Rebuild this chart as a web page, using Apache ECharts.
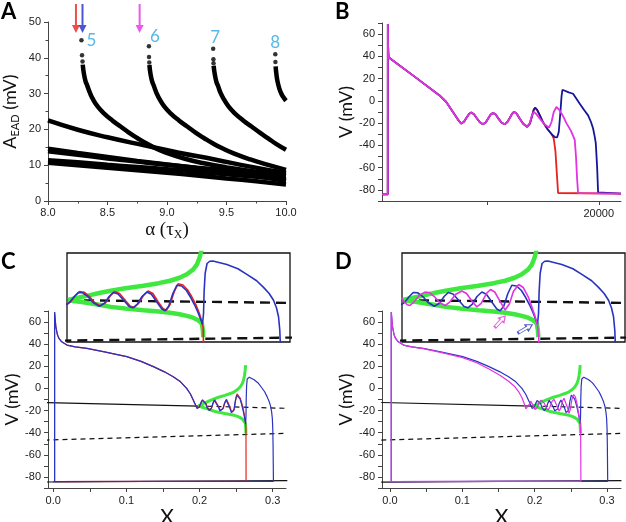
<!DOCTYPE html>
<html><head><meta charset="utf-8">
<script src="https://cdn.jsdelivr.net/npm/echarts@6/dist/echarts.min.js"></script>
<style>html,body{margin:0;padding:0;background:#fff}#c{width:626px;height:522px}</style>
</head><body><div id="c"></div>
<script>
// ---------- Panel A data: EAD amplitude vs alpha ----------
const aTicksX = [8.0, 8.5, 9.0, 9.5, 10.0];
const aBranch5 = [[8.292,38.1],[8.301,35.7],[8.315,33.5],[8.329,32.3],[8.35,30.4],[8.38,28.3],[8.42,26.3],[8.47,24.5],[8.54,22.5],[8.61,20.8],[8.68,19.1],[8.75,17.6],[8.82,16.2],[8.9,14.8],[9.0,13.4],[9.15,11.8],[9.3,10.6],[9.5,9.4],[9.75,8.2],[10.0,7.3]];
const aBranch6 = [[8.852,38.0],[8.861,35.6],[8.875,33.4],[8.889,32.2],[8.91,30.3],[8.94,28.3],[8.98,26.3],[9.03,24.5],[9.1,22.5],[9.17,20.8],[9.24,19.1],[9.31,17.6],[9.38,16.2],[9.46,14.8],[9.56,13.3],[9.7,11.6],[9.85,10.1],[10.0,8.7]];
const aBranch7 = [[9.392,37.8],[9.401,35.5],[9.415,33.3],[9.429,32.1],[9.45,30.2],[9.48,28.3],[9.52,26.3],[9.57,24.5],[9.64,22.5],[9.71,20.8],[9.78,19.1],[9.85,17.5],[9.92,15.9],[10.0,14.3]];
const aBranch8 = [[9.913,37.6],[9.92,35.2],[9.93,33.2],[9.945,31.3],[9.96,30.0],[9.98,28.9],[10.0,28.0]];
const aDots = [[8.281,44.9],[8.286,40.7],[8.29,39.0],[8.848,43.2],[8.849,40.2],[8.851,38.7],[9.388,42.5],[9.39,39.6],[9.391,38.5],[9.91,41.0],[9.911,38.8]];
const aLine1 = [[8.0,22.5],[8.25,19.9],[8.5,17.8],[8.8,15.6],[9.1,13.5],[9.4,11.6],[9.7,9.6],[10.0,7.8]];
const aLine2 = [[8.0,14.6],[8.25,13.4],[8.5,12.3],[8.75,11.2],[9.0,10.2],[9.25,9.2],[9.5,8.2],[9.75,7.0],[10.0,5.6]];
const aLine3 = [[8.0,13.9],[8.25,12.9],[8.5,11.9],[8.75,11.0],[9.0,10.1],[9.25,9.3],[9.5,8.6],[9.75,7.8],[10.0,7.0]];
const aLine4 = [[8.0,11.4],[8.25,10.8],[8.5,10.1],[8.75,9.5],[9.0,8.9],[9.25,8.2],[9.5,7.5],[9.75,6.8],[10.0,6.1]];
const aLine5 = [[8.0,10.7],[8.25,10.0],[8.5,9.3],[8.75,8.6],[9.0,7.9],[9.25,7.1],[9.5,6.3],[9.75,5.5],[10.0,4.6]];
const aNumbers = [{name:'5',value:[8.365,44.9]},{name:'6',value:[8.899,46.0]},{name:'7',value:[9.404,45.8]},{name:'8',value:[9.91,44.3]}];
const aArrowRed = [[8.235,51]];
const aArrowBlue = [[8.29,51]];
const aArrowMag = [[8.77,51]];

// ---------- Panel B data: V vs time ----------
const bShared = [[500,-84],[1018,-84],[1025,69],[1045,50],[1080,41],[1175,38.6],[3430,21.8],[5680,4.9],[6280,-1],[6880,-10],[7330,-16.8],[7630,-20.4],[7880,-18.8],[8100,-15.2],[8330,-11.8],[8530,-10.5],[8780,-12],[9030,-15.6],[9300,-19.2],[9580,-21],[9830,-19.4],[10050,-15.8],[10280,-12.2],[10480,-10.8],[10730,-12.3],[10980,-16],[11260,-19.6],[11540,-21],[11780,-19],[12000,-15.3],[12200,-11.6],[12370,-9.8],[12620,-11.5],[12880,-15.8],[13200,-20.6],[13550,-23.3]];
const bRedTail = [[13800,-20.5],[14000,-13.5],[14150,-8],[14270,-6.1],[14450,-8],[14700,-13],[15000,-19.5],[15400,-25.5],[15800,-30.5],[15950,-34],[16100,-45],[16220,-64],[16340,-82.8],[16500,-83.3],[22000,-83.3]];
const bBlueTail = [[13800,-20.5],[14000,-13.5],[14150,-8],[14270,-6.1],[14450,-8],[14700,-13],[15000,-19.5],[15400,-25.5],[15800,-30.5],[16050,-32.5],[16250,-32.9],[16400,-28],[16550,-10],[16650,4],[16730,10],[16900,9.4],[17300,7.6],[17690,6.4],[18290,-2.5],[18700,-8.5],[19040,-13],[19300,-19],[19490,-24.8],[19640,-32.3],[19730,-38],[19850,-59],[19940,-82.3],[20050,-83.3],[22000,-83.3]];
const bMagTail = [[13800,-20],[13950,-14],[14150,-10],[14350,-11.5],[14700,-16],[15100,-21],[15530,-24],[15750,-19],[15950,-10],[16190,-5.5],[16450,-8],[16800,-14],[17090,-20],[17500,-27],[17840,-35],[17950,-50],[18050,-70],[18140,-83],[18300,-83.3],[22000,-83.3]];

// ---------- Panels C and D data: V vs X ----------
const plateauBlue = [[0.0018,-84.3],[0.0018,69],[0.0035,56],[0.0055,49],[0.0075,45.5],[0.011,42.5],[0.0187,39.2],[0.03,37.6],[0.046,36.2],[0.07,33],[0.1005,28.7],[0.12,24.5],[0.1369,19.7],[0.152,15],[0.164,10.6],[0.174,6],[0.1824,0.1],[0.1875,-5],[0.1914,-10.5],[0.1945,-15],[0.1965,-18],[0.198,-18.8]];
const eadBlue = [[0.1995,-17],[0.2015,-13.5],[0.2034,-10.8],[0.2055,-11],[0.208,-13.5],[0.2105,-17.5],[0.2135,-20],[0.216,-18],[0.2182,-13.5],[0.2202,-10.8],[0.2225,-11.8],[0.2255,-16.5],[0.2278,-20.2],[0.2296,-21],[0.2318,-18.5],[0.234,-13.5],[0.2363,-10.5],[0.2385,-12],[0.241,-17],[0.2435,-21.8],[0.2451,-23],[0.2468,-20],[0.2488,-11.5],[0.2507,-6],[0.253,-6.5],[0.2553,-9.5],[0.2573,-14],[0.2592,-19],[0.2608,-24],[0.2622,-29],[0.263,-32]];
const tailBlue = [[0.2635,-25],[0.2638,-10],[0.2643,2],[0.2652,8.5],[0.2665,10],[0.268,10.2],[0.2747,7.8],[0.28,5],[0.2843,1.3],[0.289,-3],[0.2923,-7.4],[0.295,-11.5],[0.2971,-16],[0.2985,-21],[0.2995,-27],[0.3001,-36],[0.3005,-50],[0.3008,-70],[0.301,-84],[0.15,-83.9],[0.0,-84.3]];
const eadRed = [[0.2,-16.5],[0.202,-13],[0.204,-10.2],[0.2062,-10.6],[0.2088,-13.5],[0.2112,-17.5],[0.214,-19.7],[0.2166,-17.5],[0.2188,-13],[0.2208,-10.2],[0.2232,-11.5],[0.2262,-16.5],[0.2284,-20],[0.2302,-20.8],[0.2324,-18],[0.2346,-13],[0.2369,-9.8],[0.2392,-11.5],[0.2416,-16.8],[0.244,-21.5],[0.2456,-22.6],[0.2474,-19],[0.2494,-10.5],[0.2513,-5],[0.2536,-5.8],[0.2558,-9],[0.2578,-13.5],[0.2597,-18.5],[0.2613,-24],[0.2626,-29.5],[0.2633,-34]];
const tailRed = [[0.2635,-45],[0.2636,-84],[0.15,-84],[0.0,-84.3]];
const plateauMag = [[0.0018,-84.3],[0.0018,69],[0.0035,56],[0.0055,49],[0.0075,45.5],[0.011,42.5],[0.0187,39.2],[0.03,37.5],[0.046,36],[0.07,32.6],[0.1005,27.8],[0.12,23.2],[0.1369,17.5],[0.152,12],[0.164,6.5],[0.172,2],[0.178,-3],[0.1825,-8.5],[0.1858,-14],[0.1878,-18.5],[0.189,-20.2]];
const eadMag = [[0.1905,-19],[0.1925,-14.5],[0.1945,-11.5],[0.1965,-12.5],[0.1985,-16],[0.2005,-19],[0.2018,-19.5],[0.2038,-17],[0.2065,-12.5],[0.209,-10.6],[0.211,-10.8],[0.2135,-13.5],[0.216,-17.5],[0.2187,-19.5],[0.221,-17],[0.2238,-12],[0.2267,-9.8],[0.229,-11.5],[0.2315,-16.5],[0.2339,-20.4],[0.236,-18],[0.2385,-11.5],[0.2405,-8.8],[0.2425,-10.5],[0.245,-16.5],[0.2475,-22.5],[0.2495,-18.5],[0.2515,-10],[0.254,-5.5],[0.2562,-7.5],[0.2585,-13.5],[0.2602,-20],[0.2618,-26.5],[0.263,-32.5],[0.2636,-40]];
const tailMag = [[0.264,-84],[0.15,-84],[0.0,-84.3]];
const greenUpper = [[0.1985,-15.8],[0.201,-15],[0.205,-13.8],[0.209,-12.6],[0.214,-11],[0.219,-9.6],[0.226,-8],[0.2347,-6.3],[0.242,-4.6],[0.2475,-3],[0.252,-1],[0.2555,1.3],[0.2585,4.5],[0.2603,7.8],[0.2615,12],[0.2623,16],[0.263,21]];
const greenLower = [[0.1985,-15.9],[0.201,-16.5],[0.205,-17.2],[0.209,-18],[0.214,-19.2],[0.219,-20.4],[0.226,-21.5],[0.2347,-22.6],[0.242,-23.5],[0.2475,-24.3],[0.252,-25.3],[0.2555,-26.4],[0.2585,-27.6],[0.261,-29.3],[0.2627,-31.5],[0.2632,-36],[0.2634,-40.5]];
const nullUpperSolid = [[-0.012,-12.7],[0.1985,-15.9]];
const nullUpperDashed = [[0.1985,-15.9],[0.32,-18]];
const nullLowerDashed = [[-0.012,-46.7],[0.32,-40.6]];
const nullBottom = [[-0.012,-84.6],[0.32,-83.3]];
const dArrowMag = [[0.2451,-30.2]];
const dArrowBlue = [[0.2571,-35]];

const xLabelsCD = [0, 0.1, 0.2, 0.3];
const xTicksCD = [0, 0.05, 0.1, 0.15, 0.2, 0.25, 0.3];
const vLabels = [-80, -60, -40, -20, 0, 20, 40, 60];
const vTicks = [-90, -80, -70, -60, -50, -40, -30, -20, -10, 0, 10, 20, 30, 40, 50, 60, 70];
const bLabelsX = [20000];
const bTicksX = [10000, 20000];

// ---------- styles ----------
const RED = '#e8221e', NAVY = '#16169c', BLUE = '#2a33c0', MAG = '#e233e2', GREEN = '#3fe83f', CYAN = '#2aa8e0';
const tickFont = {fontFamily:'Liberation Sans, Arial, sans-serif', fontSize:11, color:'#222'};
const axisLineStyle = {color:'#444', width:1};
const richY = {a:{fontFamily:'Lato, sans-serif', fontSize:18, lineHeight:22, color:'#111'}, s:{fontFamily:'Lato, sans-serif', fontSize:11, lineHeight:11, verticalAlign:'bottom', color:'#111'}};
const richAlpha = {g:{fontFamily:'Liberation Serif, serif', fontSize:19, lineHeight:22, color:'#111'}, s:{fontFamily:'Liberation Serif, serif', fontSize:12, lineHeight:12, verticalAlign:'bottom', color:'#111'}};
const titleFont = {fontFamily:'Lato, sans-serif', fontSize:18, color:'#111'};

function line(data, idx, color, width, extra) {
  return Object.assign({type:'line', xAxisIndex:idx, yAxisIndex:idx, data:data, symbol:'none', showSymbol:false,
    lineStyle:{color:color, width:width}, silent:true, animation:false}, extra || {});
}
function dashed(data, idx, width, dash) {
  return line(data, idx, '#111', width, {lineStyle:{color:'#111', width:width, type:dash}});
}
const downArrow = 'path://M3,0 L5,0 L5,21 L8,21 L4,29 L0,21 L3,21 Z';
const hollowArrow = 'path://M4,0 L8,6 L5.6,6 L5.6,16 L2.4,16 L2.4,6 L0,6 Z';
function arrowSeries(data, color) {
  return {type:'scatter', xAxisIndex:0, yAxisIndex:0, data:data, symbol:downArrow, symbolSize:[8,29], clip:false,
    itemStyle:{color:color}, silent:true, animation:false};
}

function vAxis(gi, nameGap) {
  return {type:'value', gridIndex:gi, min:-90, max:70, axisLine:{show:true, onZero:false, lineStyle:axisLineStyle},
    axisTick:{show:true, length:4, customValues:vTicks, lineStyle:axisLineStyle},
    axisLabel:Object.assign({customValues:vLabels, margin:7, formatter:v => String(v)}, tickFont), splitLine:{show:false},
    name:'V (mV)', nameLocation:'middle', nameGap:nameGap, nameTextStyle:titleFont};
}
function xAxisCD(gi, min, max) {
  return {type:'value', gridIndex:gi, min:min, max:max, axisLine:{show:true, onZero:false, lineStyle:axisLineStyle},
    axisTick:{show:true, length:4, customValues:xTicksCD, lineStyle:axisLineStyle},
    axisLabel:Object.assign({customValues:xLabelsCD, margin:7, formatter:v => Number(v).toFixed(1)}, tickFont),
    splitLine:{show:false}, name:'X', nameLocation:'middle', nameGap:16,
    nameTextStyle:{fontFamily:'Lato, sans-serif', fontSize:21, color:'#111'}};
}
function hiddenAxis(gi, min, max) {
  return {type:'value', gridIndex:gi, min:min, max:max, show:false, axisLine:{onZero:false}, splitLine:{show:false}};
}

const insetGrid = {show:true, backgroundColor:'#fff', borderColor:'#111', borderWidth:1.3, outerBoundsMode:'none'};

const option = {
  animation:false,
  backgroundColor:'#fff',
  grid:[
    {left:48, top:22, width:238, height:179, outerBoundsMode:'none'},
    {left:382, top:23, width:239, height:178, outerBoundsMode:'none'},
    {left:48, top:311, width:238, height:177, outerBoundsMode:'none'},
    Object.assign({left:67, top:253, width:223, height:89}, insetGrid),
    {left:382, top:311, width:239, height:177, outerBoundsMode:'none'},
    Object.assign({left:402, top:253, width:223, height:89}, insetGrid)
  ],
  xAxis:[
    {type:'value', gridIndex:0, min:8, max:10, interval:0.5, axisLine:{show:true, onZero:false, lineStyle:axisLineStyle},
      axisTick:{show:true, length:4, lineStyle:axisLineStyle}, minorTick:{show:true, splitNumber:2, length:2.5, lineStyle:axisLineStyle},
      axisLabel:Object.assign({margin:6, customValues:aTicksX, formatter:v => Number(v).toFixed(1)}, tickFont), splitLine:{show:false},
      name:'{g|α (τ}{s|X}{g|)}', nameLocation:'middle', nameGap:18, nameTextStyle:{rich:richAlpha}},
    {type:'value', gridIndex:1, min:500, max:22000, axisLine:{show:true, onZero:false, lineStyle:axisLineStyle},
      axisTick:{show:true, length:4, customValues:bTicksX, lineStyle:axisLineStyle},
      axisLabel:Object.assign({customValues:bLabelsX, margin:7, formatter:v => String(Math.round(v))}, tickFont), splitLine:{show:false}},
    xAxisCD(2, -0.0072, 0.3182),
    hiddenAxis(3, 0.198, 0.305),
    xAxisCD(4, -0.011, 0.3194),
    hiddenAxis(5, 0.198, 0.305)
  ],
  yAxis:[
    {type:'value', gridIndex:0, min:0, max:50, interval:10, axisLine:{show:true, onZero:false, lineStyle:axisLineStyle},
      axisTick:{show:true, length:4, lineStyle:axisLineStyle}, minorTick:{show:true, splitNumber:2, length:2.5, lineStyle:axisLineStyle},
      axisLabel:Object.assign({margin:7}, tickFont), splitLine:{show:false},
      name:'{a|A}{s|EAD}{a| (mV)}', nameLocation:'middle', nameGap:27, nameTextStyle:{rich:richY}},
    vAxis(1, 26),
    vAxis(2, 26),
    hiddenAxis(3, -43.8, 15.5),
    vAxis(4, 26),
    hiddenAxis(5, -43.8, 15.5)
  ],
  graphic:[
    {type:'text', left:1, top:1, style:{text:'A', font:'bold 22px Lato, sans-serif', fill:'#000'}},
    {type:'text', left:335, top:1, style:{text:'B', font:'bold 22px Lato, sans-serif', fill:'#000'}},
    {type:'text', left:1, top:251, style:{text:'C', font:'bold 22px Lato, sans-serif', fill:'#000'}},
    {type:'text', left:335, top:251, style:{text:'D', font:'bold 22px Lato, sans-serif', fill:'#000'}}
  ],
  series:[
    // Panel A
    line(aLine5, 0, '#000', 4.5, {smooth:true}),
    line(aLine4, 0, '#000', 4.5, {smooth:true}),
    line(aLine3, 0, '#000', 4.5, {smooth:true}),
    line(aLine2, 0, '#000', 4.5, {smooth:true}),
    line(aLine1, 0, '#000', 4.5, {smooth:true}),
    line(aBranch5, 0, '#000', 4.5, {smooth:true}),
    line(aBranch6, 0, '#000', 4.5, {smooth:true}),
    line(aBranch7, 0, '#000', 4.5, {smooth:true}),
    line(aBranch8, 0, '#000', 4.5, {smooth:true}),
    {type:'scatter', xAxisIndex:0, yAxisIndex:0, data:aDots, symbolSize:4.5, itemStyle:{color:'#000'}, silent:true},
    {type:'scatter', xAxisIndex:0, yAxisIndex:0, data:aNumbers, symbolSize:1, itemStyle:{color:'rgba(0,0,0,0)'}, clip:false, silent:true,
      label:{show:true, position:'inside', formatter:'{b}', color:CYAN, fontFamily:'Lato, sans-serif', fontSize:17}},
    arrowSeries(aArrowRed, RED),
    arrowSeries(aArrowBlue, '#1d2cc8'),
    arrowSeries(aArrowMag, MAG),
    // Panel B
    line(bShared.concat(bRedTail), 1, RED, 1.8),
    line(bShared.concat(bBlueTail), 1, NAVY, 1.8),
    line(bShared.concat(bMagTail), 1, MAG, 1.8),
    // Panel C main
    line(nullBottom, 2, '#111', 1.2),
    dashed(nullLowerDashed, 2, 1.2, [5,4]),
    line(nullUpperSolid, 2, '#111', 1.2),
    dashed(nullUpperDashed, 2, 1.2, [5,4]),
    line(greenUpper, 2, GREEN, 3),
    line(greenLower, 2, GREEN, 3),
    line(plateauBlue.concat(eadRed, tailRed), 2, RED, 1.2),
    line(plateauBlue.concat(eadBlue, tailBlue), 2, BLUE, 1.2),
    // Panel C inset
    dashed(nullLowerDashed, 3, 2.4, [10,6]),
    dashed(nullUpperDashed, 3, 2.4, [10,6]),
    line(greenUpper, 3, GREEN, 4.5),
    line(greenLower, 3, GREEN, 4.5),
    line(plateauBlue.concat(eadRed, tailRed), 3, RED, 1.6),
    line(plateauBlue.concat(eadBlue, tailBlue), 3, BLUE, 1.6),
    // Panel D main
    line(nullBottom, 4, '#111', 1.2),
    dashed(nullLowerDashed, 4, 1.2, [5,4]),
    line(nullUpperSolid, 4, '#111', 1.2),
    dashed(nullUpperDashed, 4, 1.2, [5,4]),
    line(greenUpper, 4, GREEN, 3),
    line(greenLower, 4, GREEN, 3),
    line(plateauBlue.concat(eadBlue, tailBlue), 4, BLUE, 1.2),
    line(plateauMag.concat(eadMag, tailMag), 4, MAG, 1.2),
    // Panel D inset
    dashed(nullLowerDashed, 5, 2.4, [10,6]),
    dashed(nullUpperDashed, 5, 2.4, [10,6]),
    line(greenUpper, 5, GREEN, 4.5),
    line(greenLower, 5, GREEN, 4.5),
    line(plateauBlue.concat(eadBlue, tailBlue), 5, BLUE, 1.6),
    line(plateauMag.concat(eadMag, tailMag), 5, MAG, 1.6),
    {type:'scatter', xAxisIndex:5, yAxisIndex:5, data:dArrowMag, symbol:hollowArrow, symbolSize:[7,15], symbolRotate:-42,
      itemStyle:{color:'#fff', borderColor:MAG, borderWidth:1.2}, silent:true},
    {type:'scatter', xAxisIndex:5, yAxisIndex:5, data:dArrowBlue, symbol:hollowArrow, symbolSize:[7,16], symbolRotate:-60,
      itemStyle:{color:'#fff', borderColor:BLUE, borderWidth:1.2}, silent:true}
  ]
};

const chart = echarts.init(document.getElementById('c'), null, {width:626, height:522});
chart.setOption(option);
</script></body></html>
